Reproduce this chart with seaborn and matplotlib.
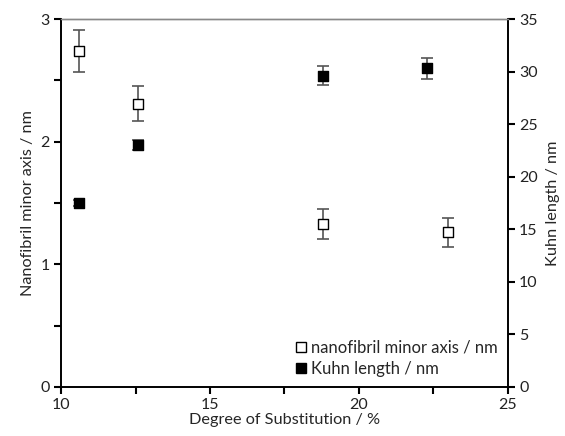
import matplotlib
matplotlib.use('Agg')
import matplotlib.pyplot as plt
import pandas as pd
import seaborn as sns
from matplotlib.ticker import MultipleLocator
from matplotlib.lines import Line2D

# Data
minor_ds = [10.6, 12.6, 18.8, 23.0]
minor_axis = [2.74, 2.31, 1.33, 1.26]
minor_err = [0.17, 0.14, 0.12, 0.12]

kuhn_ds = [10.6, 12.6, 18.8, 22.3]
kuhn_len = [17.5, 23.0, 29.6, 30.3]
kuhn_err = [0.3, 0.5, 0.9, 1.0]

sns.set_style('ticks')
plt.rcParams['font.family'] = ['Lato', 'DejaVu Sans']
plt.rcParams['font.size'] = 11.5

df_minor = pd.DataFrame({'ds': minor_ds, 'val': minor_axis})
df_kuhn = pd.DataFrame({'ds': kuhn_ds, 'val': kuhn_len})

fig = plt.figure(figsize=(5.65, 4.36), dpi=100)
ax = fig.add_axes([0.108, 0.1124, 0.791, 0.844])
ax2 = ax.twinx()

err_color = '#555555'
ax.errorbar(minor_ds, minor_axis, yerr=minor_err, fmt='none', ecolor=err_color,
            elinewidth=1.2, capsize=4, capthick=1.2, zorder=2)
sns.scatterplot(data=df_minor, x='ds', y='val', ax=ax, marker='s', s=55,
                facecolor='white', edgecolor='black', linewidth=1.0, zorder=3)

ax2.errorbar(kuhn_ds, kuhn_len, yerr=kuhn_err, fmt='none', ecolor=err_color,
             elinewidth=1.2, capsize=4, capthick=1.2, zorder=2)
sns.scatterplot(data=df_kuhn, x='ds', y='val', ax=ax2, marker='s', s=55,
                color='black', edgecolor='black', linewidth=1.0, zorder=3)

ax.set_xlim(10, 25)
ax.set_ylim(0, 3)
ax2.set_ylim(0, 35)
ax.xaxis.set_major_locator(MultipleLocator(5))
ax.xaxis.set_minor_locator(MultipleLocator(2.5))
ax.yaxis.set_major_locator(MultipleLocator(1))
ax.yaxis.set_minor_locator(MultipleLocator(0.5))
ax2.yaxis.set_major_locator(MultipleLocator(5))

ax.set_xlabel('Degree of Substitution / %', fontsize=11.7, labelpad=1)
ax.set_ylabel('Nanofibril minor axis / nm', fontsize=11.7, labelpad=4)
ax2.set_ylabel('Kuhn length / nm', fontsize=11.7, labelpad=6)

for a in (ax, ax2):
    for s in a.spines.values():
        s.set_visible(True)
        s.set_color('black')
        s.set_linewidth(1.2)
    a.spines['top'].set_color('#888888')
    a.spines['top'].set_linewidth(1.0)

# tick marks on left/bottom (ax) and right (ax2)
ax.tick_params(axis='both', which='both', direction='out', length=5, width=1.5,
               color='black', labelcolor='#222222', pad=3,
               top=False, right=False, bottom=True, left=True)
ax2.tick_params(axis='y', which='both', direction='out', length=5, width=1.5,
                right=True, color='black', labelcolor='#222222', pad=3)

handles = [
    Line2D([], [], marker='s', linestyle='none', markersize=7.5,
           markerfacecolor='white', markeredgecolor='black'),
    Line2D([], [], marker='s', linestyle='none', markersize=7.5,
           markerfacecolor='black', markeredgecolor='black'),
]
ax2.legend(handles, ['nanofibril minor axis / nm', 'Kuhn length / nm'],
           loc='lower right', frameon=False, handletextpad=0.1,
           handlelength=1.0, borderaxespad=0.2, labelspacing=0.3,
           fontsize=12)

fig.savefig('out.png', dpi=100)
